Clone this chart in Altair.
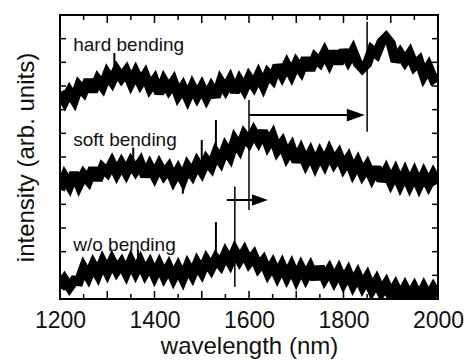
import altair as alt
import pandas as pd

# ---------------- data ----------------
wavelength = list(range(1200, 2001, 10))

hard = [8.74, 8.37, 8.75, 8.42, 9.00, 8.77, 9.25, 8.78, 9.25, 8.98,
        9.50, 9.20, 9.65, 9.35, 9.62, 9.15, 9.55, 9.13, 9.45, 8.94,
        9.23, 8.69, 9.20, 8.86, 9.17, 8.62, 8.94, 8.50, 8.97, 8.58,
        8.95, 8.52, 8.91, 8.55, 9.18, 8.86, 9.24, 8.75, 9.21, 8.87,
        9.33, 9.02, 9.45, 9.03, 9.52, 9.30, 9.86, 9.47, 9.88, 9.49,
        9.95, 9.66, 10.17, 9.68, 10.19, 10.00, 10.40, 10.00, 10.45, 9.95,
        10.50, 10.10, 10.47, 9.97, 9.75, 9.95, 10.52, 10.36, 10.85, 11.05,
        10.80, 10.05, 10.37, 10.05, 10.35, 9.85, 10.05, 9.45, 9.79, 9.31,
        9.44]

soft = [4.62, 5.14, 4.80, 5.32, 4.83, 5.25, 5.01, 5.52, 5.03, 5.54,
        5.35, 5.73, 5.32, 5.70, 5.34, 5.75, 5.43, 5.74, 5.19, 5.60,
        5.21, 5.63, 5.26, 5.53, 5.06, 5.43, 5.05, 5.58, 5.28, 5.73,
        5.40, 5.86, 5.60, 6.15, 5.84, 6.37, 6.05, 6.69, 6.37, 6.91,
        6.64, 7.04, 6.69, 7.09, 6.54, 6.88, 6.30, 6.58, 6.05, 6.38,
        5.80, 6.23, 5.76, 6.15, 5.68, 6.11, 5.73, 6.20, 5.77, 6.08,
        5.59, 5.91, 5.39, 5.76, 5.29, 5.61, 5.16, 5.56, 5.00, 5.40,
        4.95, 5.35, 4.87, 5.30, 4.84, 5.27, 4.81, 5.25, 4.85, 5.24,
        4.88]

wo = [0.45, 0.80, 0.50, 0.78, 0.75, 1.30, 0.95, 1.42, 1.05, 1.55,
      1.15, 1.60, 1.20, 1.50, 1.10, 1.58, 1.15, 1.55, 1.10, 1.45,
      1.00, 1.42, 0.98, 1.35, 0.90, 1.30, 0.88, 1.38, 1.02, 1.50,
      1.15, 1.62, 1.30, 1.70, 1.45, 1.90, 1.55, 2.02, 1.65, 1.98,
      1.55, 1.82, 1.35, 1.60, 1.12, 1.45, 1.00, 1.40, 0.95, 1.35,
      0.88, 1.32, 0.92, 1.30, 0.85, 1.35, 0.88, 1.22, 0.80, 1.18,
      0.72, 1.10, 0.62, 1.00, 0.55, 0.90, 0.40, 0.75, 0.30, 0.62,
      0.15, 0.52, 0.10, 0.48, 0.08, 0.45, 0.05, 0.46, 0.08, 0.44,
      0.10]

# narrow noise spikes: position, bottom, top
spike_x = [1315, 1355, 1460, 1500, 1530, 1365, 1530]
spike_lo = [9.40, 5.60, 4.45, 5.50, 5.90, 1.40, 1.50]
spike_hi = [10.40, 6.40, 5.30, 6.72, 7.56, 2.07, 3.25]

series_names = ["hard bending", "soft bending", "w/o bending"]
label_x = [1228, 1228, 1228]
label_y = [10.73, 6.72, 2.28]

marker_x = [1850, 1600, 1570]
marker_lo = [7.07, 3.76, 0.52]
marker_hi = [11.72, 8.41, 4.75]

arrow_start = [1600, 1553]
arrow_end = [1826, 1623]
arrow_y = [7.77, 4.18]
arrow_head = [324, 256]

x_major_ticks = [1300, 1400, 1500, 1600, 1700, 1800, 1900]
x_minor_ticks = [1250, 1350, 1450, 1550, 1650, 1750, 1850, 1950]
y_ticks = [1, 2, 3, 4, 5, 6, 7, 8, 9, 10, 11]
x_labels = [1200, 1400, 1600, 1800, 2000]

# ---------------- tables ----------------
spec_df = pd.DataFrame({
    "wavelength": wavelength * 3,
    "intensity": hard + soft + wo,
    "series": [series_names[0]] * len(hard) + [series_names[1]] * len(soft) + [series_names[2]] * len(wo),
})
spike_df = pd.DataFrame({"x": spike_x, "lo": spike_lo, "hi": spike_hi})
label_df = pd.DataFrame({"x": label_x, "y": label_y, "text": series_names})
marker_df = pd.DataFrame({"x": marker_x, "lo": marker_lo, "hi": marker_hi})
arrow_df = pd.DataFrame({"x": arrow_start, "x2": arrow_end, "y": arrow_y, "s": arrow_head})
xmaj_df = pd.DataFrame({"t": x_major_ticks})
xmin_df = pd.DataFrame({"t": x_minor_ticks})
yt_df = pd.DataFrame({"t": y_ticks})
frame_df = pd.DataFrame({"k": [0]})

W, H = 378, 284
FONT = "Liberation Sans"

xscale = alt.Scale(domain=[1200, 2000], nice=False, zero=False)
yscale = alt.Scale(domain=[0, 12], nice=False, zero=False)
xaxis = alt.Axis(values=x_labels, title="wavelength (nm)", ticks=False, domain=False, grid=False,
                 labelFontSize=23, titleFontSize=24, titleFontWeight="normal", labelPadding=10,
                 titlePadding=2, labelColor="#111", titleColor="#111", labelFont=FONT, titleFont=FONT,
                 format="d", labelFlush=False, labelOverlap=False)
yaxis = alt.Axis(labels=False, ticks=False, domain=False, grid=False, title="intensity (arb. units)",
                 titleFontSize=24, titleFontWeight="normal", titlePadding=22, titleColor="#111",
                 titleFont=FONT)

def X(f):
    return alt.X(f, scale=xscale, axis=xaxis)

def Y(f):
    return alt.Y(f, scale=yscale, axis=yaxis)

lines = alt.Chart(spec_df).mark_line(color="black", strokeWidth=10, clip=True, strokeJoin="miter",
                                     strokeMiterLimit=2.5).encode(
    x=X("wavelength:Q"), y=Y("intensity:Q"), detail="series:N", order="wavelength:Q")

spikes = alt.Chart(spike_df).mark_rule(color="black", strokeWidth=2).encode(
    x=X("x:Q"), y=Y("lo:Q"), y2="hi:Q")

markers = alt.Chart(marker_df).mark_rule(color="black", strokeWidth=1.5).encode(
    x=X("x:Q"), y=Y("lo:Q"), y2="hi:Q")

arrows = alt.Chart(arrow_df).mark_rule(color="black", strokeWidth=2).encode(
    x=X("x:Q"), x2="x2:Q", y=Y("y:Q"))

heads = alt.Chart(arrow_df).mark_point(shape="M-1,-0.72L1,0L-1,0.72Z", filled=True, color="black",
                                       opacity=1, strokeWidth=0).encode(
    x=X("x2:Q"), y=Y("y:Q"), size=alt.Size("s:Q", scale=None, legend=None))

texts = alt.Chart(label_df).mark_text(align="left", baseline="middle", fontSize=19, font=FONT,
                                      color="#111").encode(
    x=X("x:Q"), y=Y("y:Q"), text="text:N")

tb_maj = alt.Chart(xmaj_df).mark_rule(color="black", strokeWidth=1.5).encode(
    x=X("t:Q"), y=alt.value(H), y2=alt.value(H - 8))
tb_min = alt.Chart(xmin_df).mark_rule(color="black", strokeWidth=1.5).encode(
    x=X("t:Q"), y=alt.value(H), y2=alt.value(H - 5))
tt_maj = alt.Chart(xmaj_df).mark_rule(color="black", strokeWidth=1.5).encode(
    x=X("t:Q"), y=alt.value(0), y2=alt.value(8))
tt_min = alt.Chart(xmin_df).mark_rule(color="black", strokeWidth=1.5).encode(
    x=X("t:Q"), y=alt.value(0), y2=alt.value(5))
tl = alt.Chart(yt_df).mark_rule(color="black", strokeWidth=1.5).encode(
    y=Y("t:Q"), x=alt.value(0), x2=alt.value(6))
tr = alt.Chart(yt_df).mark_rule(color="black", strokeWidth=1.5).encode(
    y=Y("t:Q"), x=alt.value(W), x2=alt.value(W - 6))

frame = alt.Chart(frame_df).mark_rect(fillOpacity=0, stroke="black", strokeWidth=2).encode(
    x=alt.value(0), x2=alt.value(W), y=alt.value(0), y2=alt.value(H))

chart = alt.layer(lines, spikes, markers, arrows, heads, texts,
                  tb_maj, tb_min, tt_maj, tt_min, tl, tr, frame).properties(
    width=W, height=H,
    background="white",
    autosize=alt.AutoSizeParams(type="none"),
    padding={"left": 52, "top": 7, "right": 28, "bottom": 60},
).configure_view(stroke="black", strokeWidth=2)

chart.save("out.html", embed_options={"renderer": "svg", "actions": False})
